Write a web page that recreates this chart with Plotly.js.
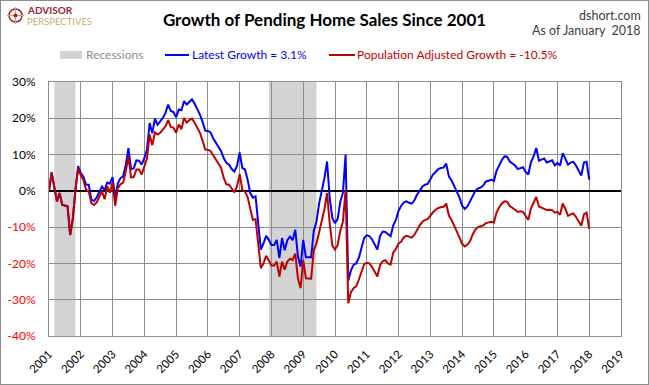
<!DOCTYPE html>
<html><head><meta charset="utf-8">
<script src="https://cdn.plot.ly/plotly-3.0.1.min.js"></script>
<style>
html,body{margin:0;padding:0;background:#fff}
#wrap{position:relative;width:649px;height:385px}
#chart{width:649px;height:385px}
#frame{position:absolute;left:0;top:0;width:647px;height:383px;border:1px solid #8c8c8c;pointer-events:none}
</style>
</head><body><div id="wrap"><div id="chart"></div><div id="frame"></div></div>
<script>
const startYear = 2001;
const latestGrowth = [
 0, 5.1, 1.0, -2.9, -0.6, -3.8, -4.0, -4.2, -12.1, -7.5,
 0.5, 6.8, 4.9, 3.9, 1.7, 1.7, -2.4, -2.8, -1.8, -0.5,
 1.2, 0.2, 2.3, 2.0, 3.8, -2.0, 2.1, 3.5, 4.0, 7.2,
 11.8, 6.0, 6.2, 8.4, 8.3, 7.2, 9.0, 11.4, 18.7, 15.9,
 19.9, 18.2, 19.0, 20.1, 21.5, 23.8, 22.0, 21.7, 20.3, 22.4,
 22.2, 24.7, 23.8, 24.5, 25.2, 24.0, 22.5, 21.0, 19.0, 16.6,
 16.5, 16.1, 14.5, 13.2, 12.0, 10.9, 9.0, 7.7, 7.2, 6.0,
 5.3, 6.9, 10.6, 6.3, 5.9, 3.1, -0.6, -1.9, -1.5, -9.9,
 -16.2, -14.5, -12.4, -13.5, -14.9, -14.9, -13.5, -18.5, -13.0, -16.4,
 -13.6, -12.6, -13.6, -10.7, -18.1, -20.9, -13.5, -18.3, -18.4, -18.3,
 -11.0, -8.5, -3.5, 0.0, 3.5, 8.1, -2.0, -7.5, -8.9, -7.7,
 -3.0, -0.5, 10.0, -24.8, -22.0, -20.4, -20.0, -18.5, -15.5, -13.0,
 -12.2, -12.5, -13.4, -15.0, -16.2, -12.5, -11.2, -11.3, -12.0, -12.5,
 -9.5, -8.0, -5.5, -4.1, -3.2, -2.9, -3.3, -3.5, -2.6, -1.0,
 0.0, 1.2, 1.7, 1.9, 3.2, 4.5, 5.2, 6.0, 6.3, 6.4,
 7.5, 4.0, 2.9, 1.5, -0.2, -1.8, -4.1, -5.0, -4.3, -2.9,
 -1.2, 0.0, 0.7, 0.9, 1.5, 2.6, 2.8, 3.1, 2.7, 5.5,
 7.0, 8.5, 9.5, 9.4, 8.1, 7.5, 7.0, 6.0, 6.3, 6.5,
 5.2, 4.5, 7.9, 9.5, 11.8, 8.3, 8.6, 8.9, 7.8, 8.2,
 8.4, 7.0, 7.7, 7.0, 10.4, 8.8, 7.2, 7.8, 8.0, 7.0,
 5.5, 4.2, 7.8, 8.0, 3.1
];
const popAdjustedGrowth = [
 0, 5.1, 1.0, -2.9, -0.6, -3.9, -4.1, -4.3, -12.2, -7.8,
 0.2, 6.2, 4.3, 3.0, 0.3, -0.1, -3.4, -3.9, -3.2, -1.8,
 -0.1, -2.3, 1.2, -0.5, 2.3, -4.1, 0.8, 1.8, 2.3, 5.4,
 9.5, 3.7, 3.8, 5.9, 5.9, 4.5, 6.5, 8.9, 15.5, 12.6,
 16.1, 15.5, 16.0, 16.9, 17.8, 19.5, 17.6, 17.4, 16.0, 18.3,
 17.0, 20.1, 18.8, 19.5, 19.9, 18.8, 17.5, 16.0, 13.8, 11.4,
 11.3, 11.0, 9.8, 8.6, 7.5, 6.3, 3.5, 1.8, 1.7, 0.5,
 -0.4, 1.3, 4.6, 0.3, -0.2, -1.7, -5.2, -8.0, -7.8, -14.5,
 -21.3, -20.0, -17.9, -19.2, -20.6, -20.6, -19.5, -23.6, -19.5, -21.7,
 -19.5, -18.7, -19.1, -17.3, -24.2, -26.8, -19.0, -24.1, -24.2, -24.2,
 -16.3, -14.5, -11.5, -8.5, -5.0, -0.6, -9.0, -15.0, -16.2, -14.9,
 -11.0, -8.5, 0.3, -31.0, -28.0, -26.8, -26.3, -24.5, -22.0, -20.2,
 -19.8, -20.0, -21.0, -22.5, -23.6, -20.5, -19.4, -19.1, -20.0, -20.3,
 -17.0, -16.0, -14.5, -14.0, -12.8, -12.4, -12.7, -12.9, -12.1, -10.7,
 -9.5, -8.5, -8.0, -7.8, -6.8, -5.9, -5.2, -4.7, -4.5, -4.4,
 -3.5, -6.8, -8.0, -9.5, -11.2, -12.8, -14.6, -15.3, -14.8, -13.9,
 -12.0, -10.7, -10.0, -9.8, -9.5, -8.9, -8.7, -8.5, -8.7, -6.0,
 -4.5, -3.5, -2.9, -3.0, -4.2, -4.6, -5.2, -5.8, -5.6, -5.8,
 -7.0, -8.0, -4.8, -3.0, -1.7, -4.3, -4.6, -4.8, -5.3, -5.2,
 -5.3, -6.0, -5.8, -6.6, -3.5, -5.0, -6.9, -6.5, -6.2, -7.2,
 -8.5, -9.6, -6.5, -6.0, -10.5
];
const recessionStart = [2001.167, 2007.917];
const recessionEnd = [2001.833, 2009.417];
const yearTicks = [2001,2002,2003,2004,2005,2006,2007,2008,2009,2010,2011,2012,2013,2014,2015,2016,2017,2018,2019];
const yTicks = [-40,-30,-20,-10,0,10,20,30];

const FONT = 'Lato, "Open Sans", sans-serif';
const BLUE = '#0000ff', RED = '#c00000';
const W = 649, H = 385, ML = 49, MR = 28, MT = 82, MB = 49;
const PW = W - ML - MR, PH = H - MT - MB;
const px = x => (x - ML) / PW;
const py = y => (H - MB - y) / PH;

const xs = latestGrowth.map((_, i) => startYear + i / 12);
const lastLatest = latestGrowth[latestGrowth.length - 1];
const lastPop = popAdjustedGrowth[popAdjustedGrowth.length - 1];

const traces = [
  {x: xs, y: latestGrowth, type: 'scatter', mode: 'lines', line: {color: BLUE, width: 2}, hoverinfo: 'skip', showlegend: false},
  {x: xs, y: popAdjustedGrowth, type: 'scatter', mode: 'lines', line: {color: RED, width: 2}, hoverinfo: 'skip', showlegend: false}
];

const shapes = recessionStart.map((s, i) => ({
  type: 'rect', xref: 'x', yref: 'paper', x0: s, x1: recessionEnd[i], y0: 0, y1: 1,
  fillcolor: '#d3d3d3', line: {width: 0}, layer: 'below'
}));
// legend marks
shapes.push({type: 'rect', xref: 'paper', yref: 'paper', x0: px(60), x1: px(82), y0: py(59), y1: py(51), fillcolor: '#d3d3d3', line: {width: 0}});
shapes.push({type: 'line', xref: 'paper', yref: 'paper', x0: px(165), x1: px(189), y0: py(55), y1: py(55), line: {color: BLUE, width: 2}});
shapes.push({type: 'line', xref: 'paper', yref: 'paper', x0: px(329), x1: px(355), y0: py(55), y1: py(55), line: {color: RED, width: 2}});
// logo mark
shapes.push({type: 'circle', xref: 'paper', yref: 'paper', x0: px(9), x1: px(22), y0: py(22), y1: py(9), fillcolor: 'rgba(0,0,0,0)', line: {color: '#9b2335', width: 1.5}});
shapes.push({type: 'line', xref: 'paper', yref: 'paper', x0: px(15.5), x1: px(15.5), y0: py(7), y1: py(24), line: {color: '#c8a96a', width: 1.2}});
shapes.push({type: 'line', xref: 'paper', yref: 'paper', x0: px(7), x1: px(24), y0: py(15.5), y1: py(15.5), line: {color: '#c8a96a', width: 1.2}});
shapes.push({type: 'circle', xref: 'paper', yref: 'paper', x0: px(13.5), x1: px(17.5), y0: py(17.5), y1: py(13.5), fillcolor: '#9b2335', line: {width: 0}});

const ann = (x, y, text, opts) => Object.assign({xref: 'paper', yref: 'paper', x: px(x), y: py(y), text, showarrow: false, xanchor: 'left', yanchor: 'middle', borderpad: 0}, opts);
const annotations = [
  ann(85, 55, 'Recessions', {font: {family: FONT, size: 12, color: '#8c8c8c'}}),
  ann(191, 55, 'Latest Growth = ' + lastLatest.toFixed(1) + '%', {font: {family: FONT, size: 12, color: BLUE}}),
  ann(356, 55, 'Population Adjusted Growth = ' + lastPop.toFixed(1) + '%', {font: {family: FONT, size: 12, color: RED}}),
  ann(642, 15, 'dshort.com', {xanchor: 'right', font: {family: FONT, size: 12.5, color: '#404040'}}),
  ann(642, 31, 'As of January  2018', {xanchor: 'right', font: {family: FONT, size: 12.5, color: '#404040'}}),
  ann(25.5, 9.5, '<b>ADVISOR</b>', {font: {family: FONT, size: 10, color: '#9b2335'}}),
  ann(25.5, 21.8, 'PERSPECTIVES', {font: {family: FONT, size: 9.5, color: '#c8a96a'}})
];

const yText = yTicks.map(v => v < 0 ? '<span style="color:#ff0000">' + v + '%</span>' : v + '%');

const layout = {
  width: W, height: H,
  margin: {l: ML, r: MR, t: MT, b: MB, pad: 0},
  paper_bgcolor: '#ffffff', plot_bgcolor: '#ffffff',
  showlegend: false,
  title: {text: '<b>Growth of Pending Home Sales Since 2001</b>', x: 0.5, xref: 'container', xanchor: 'center', y: 1 - 20 / H, yref: 'container', yanchor: 'middle', font: {family: FONT, size: 17, color: '#000'}},
  xaxis: {
    range: [2001, 2019], tickmode: 'array', tickvals: yearTicks, ticktext: yearTicks.map(String),
    tickangle: -45, tickfont: {family: FONT, size: 11.5, color: '#000'},
    showgrid: true, gridcolor: '#8c8c8c', gridwidth: 1,
    showline: true, linecolor: '#8c8c8c', linewidth: 1, mirror: true,
    zeroline: false, ticks: 'outside', ticklen: 6, tickcolor: 'rgba(0,0,0,0)', fixedrange: true
  },
  yaxis: {
    range: [-40, 30], tickmode: 'array', tickvals: yTicks, ticktext: yText,
    tickfont: {family: FONT, size: 12, color: '#000'},
    showgrid: true, gridcolor: '#8c8c8c', gridwidth: 1,
    showline: true, linecolor: '#8c8c8c', linewidth: 1, mirror: true,
    zeroline: true, zerolinecolor: '#000', zerolinewidth: 2,
    ticks: 'outside', ticklen: 10, tickcolor: 'rgba(0,0,0,0)', fixedrange: true
  },
  shapes, annotations
};

Plotly.newPlot('chart', traces, layout, {displayModeBar: false, staticPlot: true});
</script>
</body></html>
